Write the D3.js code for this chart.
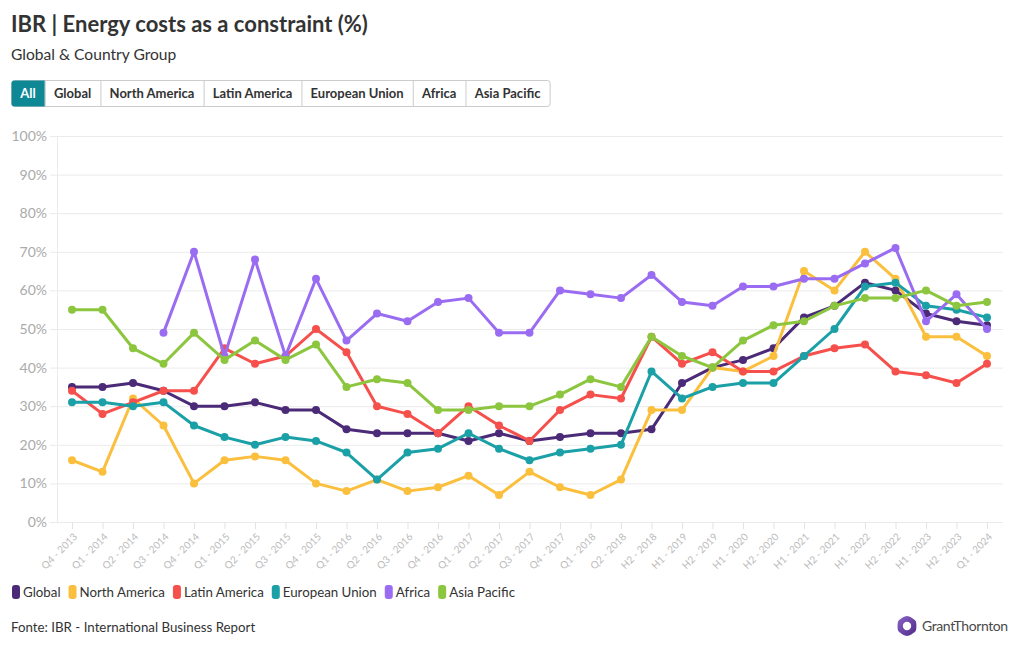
<!DOCTYPE html>
<html>
<head>
<meta charset="utf-8">
<script src="https://cdn.jsdelivr.net/npm/d3@7"></script>
<style>
  html, body { margin: 0; padding: 0; background: #fff; }
  body { width: 1020px; height: 650px; overflow: hidden; font-family: "Source Sans Pro", Lato, "Open Sans", sans-serif; }
  svg { display: block; }
</style>
</head>
<body>
<svg id="chart" width="1020" height="650"></svg>
<script>
const categories = ["Q4 - 2013","Q1 - 2014","Q2 - 2014","Q3 - 2014","Q4 - 2014","Q1 - 2015","Q2 - 2015","Q3 - 2015","Q4 - 2015","Q1 - 2016","Q2 - 2016","Q3 - 2016","Q4 - 2016","Q1 - 2017","Q2 - 2017","Q3 - 2017","Q4 - 2017","Q1 - 2018","Q2 - 2018","H2 - 2018","H1 - 2019","H2 - 2019","H1 - 2020","H2 - 2020","H1 - 2021","H2 - 2021","H1 - 2022","H2 - 2022","H1 - 2023","H2 - 2023","Q1 - 2024"];

const globalValues   = [35,35,36,34,30,30,31,29,29,24,23,23,23,21,23,21,22,23,23,24,36,40,42,45,53,56,62,60,54,52,51];
const northAmerica   = [16,13,32,25,10,16,17,16,10,8,11,8,9,12,7,13,9,7,11,29,29,40,39,43,65,60,70,63,48,48,43];
const latinAmerica   = [34,28,31,34,34,45,41,43,50,44,30,28,23,30,25,21,29,33,32,48,41,44,39,39,43,45,46,39,38,36,41];
const europeanUnion  = [31,31,30,31,25,22,20,22,21,18,11,18,19,23,19,16,18,19,20,39,32,35,36,36,43,50,61,62,56,55,53];
const africa         = [null,null,null,49,70,43,68,43,63,47,54,52,57,58,49,49,60,59,58,64,57,56,61,61,63,63,67,71,52,59,50];
const asiaPacific    = [55,55,45,41,49,42,47,42,46,35,37,36,29,29,30,30,33,37,35,48,43,40,47,51,52,56,58,58,60,56,57];

const seriesNames  = ["Global","North America","Latin America","European Union","Africa","Asia Pacific"];
const seriesColors = ["#4b2a77","#fbbf3e","#f5504c","#1aa0a6","#9a6cf2","#8cc63f"];
const buttonLabels = ["All","Global","North America","Latin America","European Union","Africa","Asia Pacific"];
const yTicks = [0,10,20,30,40,50,60,70,80,90,100];

const seriesData = [globalValues, northAmerica, latinAmerica, europeanUnion, africa, asiaPacific];

const svg = d3.select("#chart");
const FONT = '"Source Sans Pro", Lato, "Open Sans", sans-serif';

// Title & subtitle
svg.append("text").attr("x", 11).attr("y", 32)
  .attr("font-family", FONT).attr("font-weight", 700).attr("font-size", 22)
  .attr("fill", "#333").text("IBR | Energy costs as a constraint (%)");
svg.append("text").attr("x", 11).attr("y", 60)
  .attr("font-family", FONT).attr("font-size", 15.6)
  .attr("fill", "#333").text("Global & Country Group");

// Buttons
const btnG = svg.append("g").attr("transform", "translate(11,80)");
let bx = 0;
const btnH = 26;
const btnWidths = [];
buttonLabels.forEach((lbl) => {
  const t = btnG.append("text").attr("font-family", FONT).attr("font-weight", 700)
    .attr("font-size", 13).text(lbl).attr("visibility", "hidden");
  const w = t.node().getComputedTextLength() + 18.3;
  t.remove();
  btnWidths.push(w);
});
const totalW = d3.sum(btnWidths);
btnG.append("rect").attr("x", 0.5).attr("y", 0.5).attr("width", totalW).attr("height", btnH)
  .attr("rx", 3).attr("fill", "#fff").attr("stroke", "#ccc");
buttonLabels.forEach((lbl, i) => {
  const w = btnWidths[i];
  if (i === 0) {
    btnG.append("path")
      .attr("d", `M${w},0.5 H3.5 Q0.5,0.5 0.5,3.5 V${btnH-2.5} Q0.5,${btnH+0.5} 3.5,${btnH+0.5} H${w} Z`)
      .attr("fill", "#0f8896");
  } else {
    btnG.append("line").attr("x1", bx + 0.5).attr("x2", bx + 0.5).attr("y1", 0.5).attr("y2", btnH + 0.5)
      .attr("stroke", "#ccc");
  }
  btnG.append("text").attr("x", bx + w / 2).attr("y", 18)
    .attr("text-anchor", "middle").attr("font-family", FONT).attr("font-weight", 700)
    .attr("font-size", 13).attr("fill", i === 0 ? "#fff" : "#333").text(lbl);
  bx += w;
});

// Scales
const x = d3.scalePoint().domain(categories).range([72, 987]);
const y = d3.scaleLinear().domain([0, 100]).range([522, 136]);

// Grid
const grid = svg.append("g");
grid.selectAll("line").data(yTicks).join("line")
  .attr("x1", 50).attr("x2", 1003)
  .attr("y1", d => y(d) + 0.5).attr("y2", d => y(d) + 0.5)
  .attr("stroke", "#ebebeb");
svg.append("line").attr("x1", 57.5).attr("x2", 57.5).attr("y1", 136).attr("y2", 522)
  .attr("stroke", "#ebebeb");

// Y axis
const yAxis = svg.append("g").attr("transform", "translate(47,0)")
  .call(d3.axisLeft(y).tickValues(yTicks).tickFormat(d => d + "%").tickSize(0).tickPadding(0));
yAxis.select(".domain").remove();
yAxis.selectAll("text").attr("font-family", FONT).attr("font-size", 14).attr("fill", "#aaa");

// X axis
const xAxis = svg.append("g").attr("transform", "translate(0,522)")
  .call(d3.axisBottom(x).tickSize(7).tickPadding(3));
xAxis.select(".domain").remove();
xAxis.selectAll(".tick line").attr("stroke", "#e3e3e3");
xAxis.selectAll("text")
  .attr("font-family", FONT).attr("font-size", 10).attr("fill", "#bbb")
  .attr("text-anchor", "end")
  .attr("x", 0).attr("y", 0).attr("dy", "0.35em")
  .attr("transform", "translate(3,13) rotate(-45)");

// Lines
const line = d3.line()
  .defined(d => d.v !== null)
  .x(d => x(d.c)).y(d => y(d.v));

const plot = svg.append("g");
seriesData.forEach((vals, si) => {
  const pts = categories.map((c, i) => ({ c, v: vals[i] }));
  plot.append("path").datum(pts)
    .attr("fill", "none").attr("stroke", seriesColors[si])
    .attr("stroke-width", 3).attr("stroke-linejoin", "round").attr("stroke-linecap", "round")
    .attr("d", line);
  plot.append("g").selectAll("circle").data(pts.filter(d => d.v !== null)).join("circle")
    .attr("cx", d => x(d.c)).attr("cy", d => y(d.v)).attr("r", 4)
    .attr("fill", seriesColors[si]);
});

// Legend
const leg = svg.append("g").attr("transform", "translate(12,585)");
let lx = 0;
seriesNames.forEach((n, i) => {
  leg.append("rect").attr("x", lx).attr("y", 0).attr("width", 8).attr("height", 14)
    .attr("rx", 3).attr("fill", seriesColors[i]);
  const t = leg.append("text").attr("x", lx + 11).attr("y", 12)
    .attr("font-family", FONT).attr("font-size", 13.3).attr("fill", "#333").text(n);
  lx += 11 + t.node().getComputedTextLength() + 8;
});

// Footer
svg.append("text").attr("x", 11).attr("y", 632)
  .attr("font-family", FONT).attr("font-size", 13.3).attr("fill", "#333")
  .text("Fonte: IBR - International Business Report");

// Logo
const logo = svg.append("g").attr("transform", "translate(907,626)");
const grad = svg.append("defs").append("linearGradient").attr("id", "gtg")
  .attr("x1", "0").attr("y1", "0").attr("x2", "1").attr("y2", "1");
grad.append("stop").attr("offset", "0").attr("stop-color", "#8a63c9");
grad.append("stop").attr("offset", "1").attr("stop-color", "#4f2a85");
const hex = d3.range(6).map(k => {
  const a = Math.PI / 3 * k + Math.PI / 6;
  return [10 * Math.cos(a), 10 * Math.sin(a)];
});
logo.append("path").attr("d", d3.line().curve(d3.curveCardinalClosed.tension(0.3))(hex))
  .attr("fill", "url(#gtg)");
logo.append("circle").attr("r", 4.2).attr("fill", "#fff");
svg.append("text").attr("x", 922).attr("y", 631)
  .attr("font-family", FONT).attr("font-size", 14).attr("fill", "#4a4a4a")
  .attr("letter-spacing", -0.4)
  .text("GrantThornton");
</script>
</body>
</html>
